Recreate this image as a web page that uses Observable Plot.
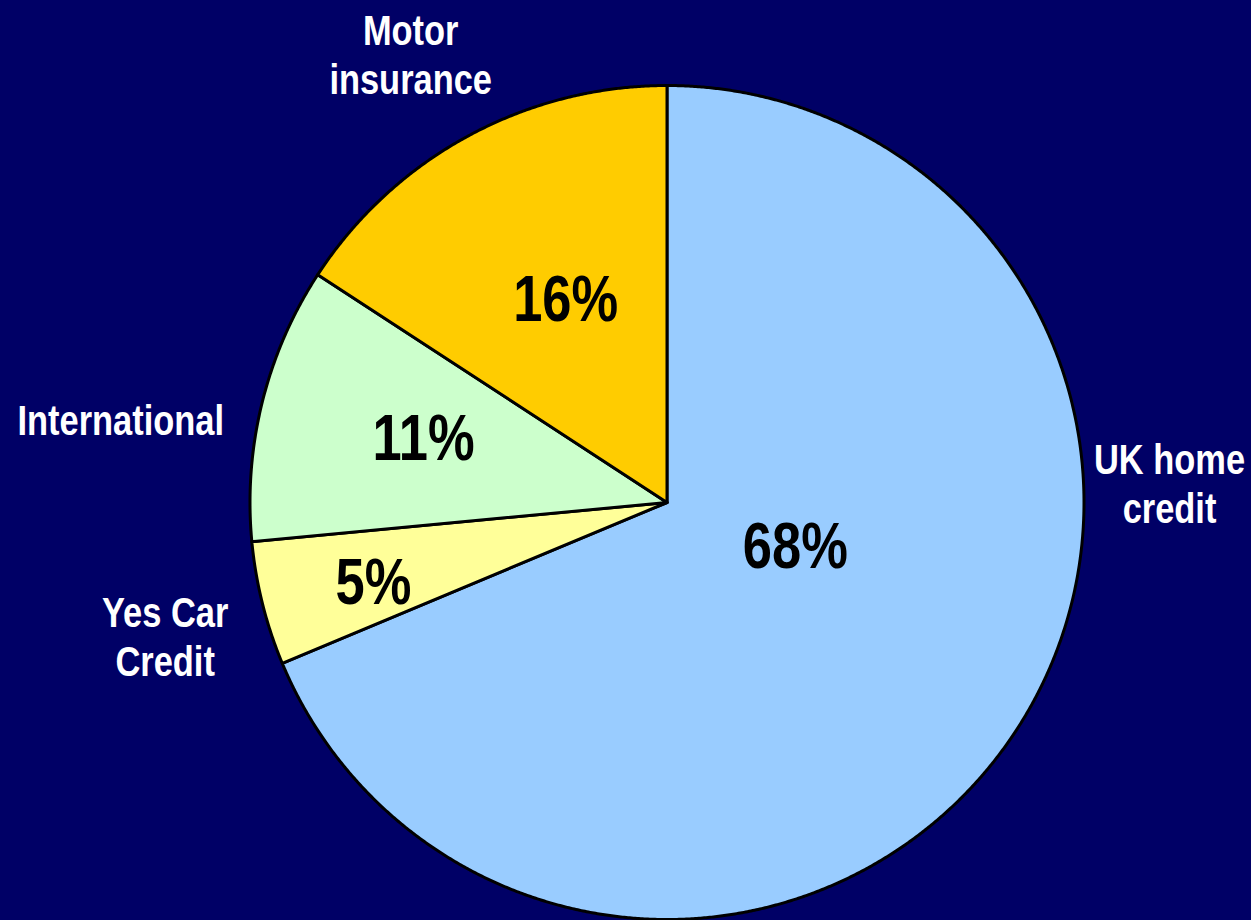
<!DOCTYPE html>
<html>
<head>
<meta charset="utf-8">
<script src="https://cdn.jsdelivr.net/npm/d3@7"></script>
<script src="https://cdn.jsdelivr.net/npm/@observablehq/plot@0.6"></script>
<style>
  html, body { margin: 0; padding: 0; background: #000066; }
  #chart svg { display: block; }
</style>
</head>
<body>
<div id="chart"></div>
<script>
// ---- data ----
const categories = ["UK home credit", "Yes Car Credit", "International", "Motor insurance"];
const categoryLabels = ["UK home\ncredit", "Yes Car\nCredit", "International", "Motor\ninsurance"];
const shares = [68.7, 4.8, 10.7, 15.8];          // slice sizes (%)
const shareLabels = ["68%", "5%", "11%", "16%"];  // printed labels
const colors = ["#99CCFF", "#FFFF99", "#CCFFCC", "#FFCC00"];

// ---- layout (polar placement of labels relative to each slice's mid angle) ----
const innerAngleOffset = [-14.4, -1.3, 0.6, 1.8];
const innerRadius = [0.326, 0.73, 0.603, 0.542];
const outerAngleOffset = [-35.9, -0.8, -5.2, -1.3];
const outerRadius = [1.206, 1.245, 1.325, 1.239];

// ---- derived geometry (angles clockwise from 12 o'clock, unit circle) ----
const total = d3.sum(shares);
const ends = d3.cumsum(shares).map(v => v / total * 360);
const starts = [0, ...ends.slice(0, -1)];
const rad = a => a * Math.PI / 180;
const px = (a, r) => r * Math.sin(rad(a));
const py = (a, r) => r * Math.cos(rad(a));

const slicePts = [];
categories.forEach((c, i) => {
  slicePts.push({cat: c, x: 0, y: 0});
  const n = Math.max(2, Math.ceil((ends[i] - starts[i]) / 0.25));
  for (let k = 0; k <= n; k++) {
    const a = starts[i] + (ends[i] - starts[i]) * k / n;
    slicePts.push({cat: c, x: px(a, 1), y: py(a, 1)});
  }
  slicePts.push({cat: c, x: 0, y: 0});
});

const inner = categories.map((c, i) => {
  const a = (starts[i] + ends[i]) / 2 + innerAngleOffset[i];
  return {text: shareLabels[i], x: px(a, innerRadius[i]), y: py(a, innerRadius[i])};
});
const outer = categories.map((c, i) => {
  const a = (starts[i] + ends[i]) / 2 + outerAngleOffset[i];
  return {text: categoryLabels[i], x: px(a, outerRadius[i]), y: py(a, outerRadius[i])};
});

const cx = 666.5, cy = 502, R = 417;
const font = "'Liberation Sans', Arial, sans-serif";
const narrow = 0.82; // horizontal condensing to mimic Arial Narrow

const chart = Plot.plot({
  width: 1251,
  height: 920,
  margin: 0,
  style: {background: "#000066", fontFamily: font},
  x: {domain: [-1, 1], range: [cx - R, cx + R], axis: null},
  y: {domain: [-1, 1], range: [cy + R, cy - R], axis: null},
  color: {domain: categories, range: colors},
  marks: [
    Plot.line(slicePts, {
      x: "x", y: "y", z: "cat", fill: "cat",
      stroke: "black", strokeWidth: 3, strokeLinejoin: "round"
    }),
    Plot.text(inner, {
      x: "x", y: "y", text: "text", className: "narrow",
      fill: "black", fontSize: 64, fontWeight: "bold", fontFamily: font
    }),
    Plot.text(outer, {
      x: "x", y: "y", text: "text", className: "narrow",
      fill: "white", fontSize: 42, fontWeight: "bold", fontFamily: font,
      lineHeight: 1.17, lineAnchor: "middle"
    })
  ]
});
document.getElementById("chart").appendChild(chart);

// condense the label glyphs horizontally around their anchor points
d3.select(chart).selectAll("g.narrow text").each(function() {
  const t = this.getAttribute("transform");
  if (t) {
    this.setAttribute("transform", t + ` scale(${narrow},1)`);
  } else {
    const x = +this.getAttribute("x") || 0;
    const y = +this.getAttribute("y") || 0;
    this.removeAttribute("x");
    this.removeAttribute("y");
    this.setAttribute("transform", `translate(${x},${y}) scale(${narrow},1)`);
  }
});
</script>
</body>
</html>
